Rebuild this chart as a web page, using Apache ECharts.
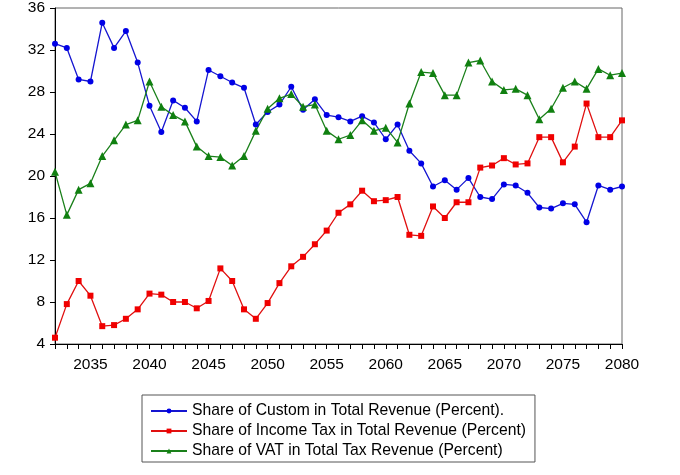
<!DOCTYPE html>
<html>
<head>
<meta charset="utf-8">
<script src="https://cdn.jsdelivr.net/npm/echarts@6/dist/echarts.min.js"></script>
<style>html,body{margin:0;padding:0;background:#fff}#c{width:680px;height:475px}</style>
</head>
<body>
<div id="c"></div>
<script>
const years = [];
for (let y = 2032; y <= 2080; y++) years.push(String(y));

const customShare = [32.6,32.2,29.2,29.0,34.6,32.2,33.8,30.8,26.7,24.2,27.2,26.5,25.2,30.1,29.5,28.9,28.4,24.9,26.1,26.8,28.5,26.3,27.3,25.8,25.6,25.2,25.7,25.1,23.5,24.9,22.4,21.2,19.0,19.6,18.7,19.8,18.0,17.8,19.2,19.1,18.4,17.0,16.9,17.4,17.3,15.6,19.1,18.7,19.0];
const incomeTaxShare = [4.6,7.8,10.0,8.6,5.7,5.8,6.4,7.3,8.8,8.7,8.0,8.0,7.4,8.1,11.2,10.0,7.3,6.4,7.9,9.8,11.4,12.3,13.5,14.8,16.5,17.3,18.6,17.6,17.7,18.0,14.4,14.3,17.1,16.0,17.5,17.5,20.8,21.0,21.7,21.1,21.2,23.7,23.7,21.3,22.8,26.9,23.7,23.7,25.3];
const vatShare = [20.4,16.3,18.7,19.3,21.9,23.4,24.9,25.3,29.0,26.6,25.8,25.2,22.8,21.9,21.8,21.0,21.9,24.3,26.4,27.4,27.8,26.6,26.8,24.3,23.5,23.9,25.3,24.3,24.6,23.2,26.9,29.9,29.8,27.7,27.7,30.8,31.0,29.0,28.2,28.3,27.7,25.4,26.4,28.4,29.0,28.3,30.2,29.6,29.8];

const seriesNames = [
  'Share of Custom in Total Revenue (Percent).',
  'Share of Income Tax in Total Revenue (Percent)',
  'Share of VAT in Total Tax Revenue (Percent)'
];
const yTicks = {min: 4, max: 36, interval: 4};

const font = 'Liberation Sans, Arial, sans-serif';
const chart = echarts.init(document.getElementById('c'), null, {renderer: 'canvas'});
chart.setOption({
  animation: false,
  backgroundColor: '#fff',
  grid: {left: 55, right: 58, top: 5, bottom: 131, show: true, borderColor: '#666', borderWidth: 1, backgroundColor: 'transparent'},
  xAxis: {
    type: 'category',
    data: years,
    boundaryGap: false,
    axisLine: {lineStyle: {color: '#000', width: 1}},
    axisTick: {interval: 0, length: 5, lineStyle: {color: '#000'}},
    axisLabel: {interval: (i, v) => Number(v) % 5 === 0, color: '#000', fontSize: 15.5, fontFamily: font, margin: 13},
    splitLine: {show: false}
  },
  yAxis: {
    type: 'value',
    min: yTicks.min, max: yTicks.max, interval: yTicks.interval,
    axisLine: {show: true, lineStyle: {color: '#000', width: 1}},
    axisTick: {show: true, length: 5, lineStyle: {color: '#000'}},
    axisLabel: {color: '#000', fontSize: 15.5, fontFamily: font, margin: 10},
    splitLine: {show: false}
  },
  legend: {
    orient: 'vertical',
    left: 142, top: 395,
    padding: [8, 9, 3, 8],
    itemGap: 4,
    itemWidth: 36, itemHeight: 6,
    borderColor: '#555', borderWidth: 1,
    textStyle: {color: '#000', fontSize: 15.7, fontFamily: font, lineHeight: 16},
    data: seriesNames
  },
  series: [
    {name: seriesNames[0], type: 'line', data: customShare, symbol: 'circle', symbolSize: 6, showAllSymbol: true,
     lineStyle: {color: '#1515d0', width: 1.3}, itemStyle: {color: '#0000e6'}},
    {name: seriesNames[1], type: 'line', data: incomeTaxShare, symbol: 'rect', symbolSize: 6, showAllSymbol: true,
     lineStyle: {color: '#e01010', width: 1.3}, itemStyle: {color: '#f00000'}},
    {name: seriesNames[2], type: 'line', data: vatShare, symbol: 'triangle', symbolSize: 8, showAllSymbol: true,
     lineStyle: {color: '#1a801a', width: 1.3}, itemStyle: {color: '#108010'}}
  ]
});
</script>
</body>
</html>
